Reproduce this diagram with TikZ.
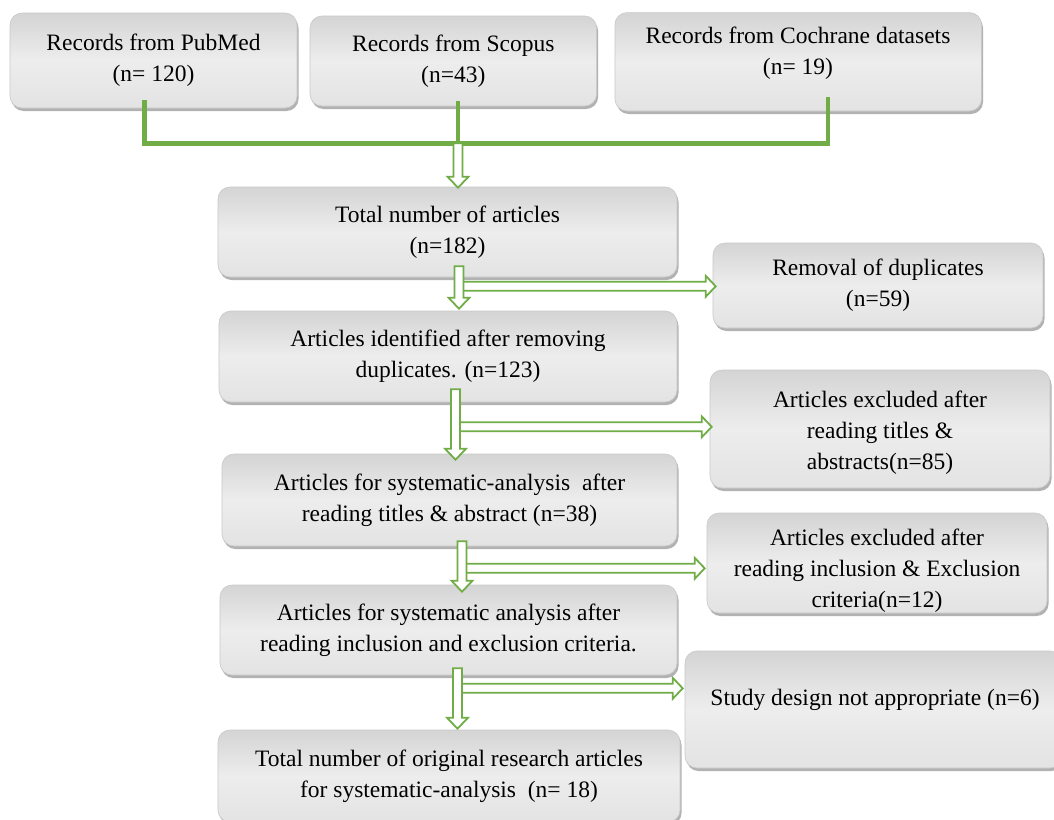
\documentclass[tikz,border=0pt]{standalone}
\usepackage{fontspec}
\setmainfont{Liberation Serif}
\usetikzlibrary{calc,shadows}
\definecolor{grn}{HTML}{70AD47}
\definecolor{bxtop}{HTML}{D4D4D4}
\definecolor{bxmid}{HTML}{EDEDED}
\definecolor{bxbot}{HTML}{E3E3E3}
\definecolor{bxline}{HTML}{C9C9C9}
\newcommand\hollowdown[2]{%
  \draw[hollow] let \p1=#1, \p2=#2 in
    (\x1-4.5pt,\y1) -- (\x1-4.5pt,\y2+11pt) -- (\x1-10.5pt,\y2+11pt) -- (\x1,\y2)
    -- (\x1+10.5pt,\y2+11pt) -- (\x1+4.5pt,\y2+11pt) -- (\x1+4.5pt,\y1) -- cycle;}
\newcommand\hollowright[2]{%
  \draw[hollow] let \p1=#1, \p2=#2 in
    (\x1,\y1+4.5pt) -- (\x2-10pt,\y1+4.5pt) -- (\x2-10pt,\y1+10.5pt) -- (\x2,\y1)
    -- (\x2-10pt,\y1-10.5pt) -- (\x2-10pt,\y1-4.5pt) -- (\x1,\y1-4.5pt) -- cycle;}
\begin{document}
\begin{tikzpicture}[x=1pt,y=-1pt,
  box/.style={rounded corners=12pt, draw=bxline, line width=0.6pt,
    top color=bxtop, bottom color=bxbot, middle color=bxmid,
    drop shadow={shadow xshift=1.5pt,shadow yshift=-3pt,fill=black,opacity=0.3},
    align=center, font=\fontsize{23.5}{31}\selectfont, inner sep=0pt},
  txt/.style={align=center, font=\fontsize{23.5}{31}\selectfont, inner sep=0pt},
  conn/.style={draw=grn, line width=4.5pt},
  hollow/.style={draw=grn, fill=white, line width=1.8pt, line join=miter}]
\useasboundingbox[fill=white] (0,0) rectangle (1054,819);

% boxes
\node[box, minimum width=287pt, minimum height=95pt] (pub) at (153.5,60.5) {Records from PubMed\\(n= 120)};
\node[box, minimum width=286.6pt, minimum height=90pt] (sco) at (453.3,61) {Records from Scopus\\(n=43)};
\node[box, minimum width=366.5pt, minimum height=98.4pt] (coc) at (798.25,61.8) {};
\node[txt] (coctxt) at (798,53) {Records from Cochrane datasets\\(n= 19)};
\node[box, minimum width=459pt, minimum height=90pt] (tot) at (447.5,232) {Total number of articles\\(n=182)};
\node[box, minimum width=330pt, minimum height=85pt] (dup) at (878,285.5) {Removal of duplicates\\(n=59)};
\node[box, minimum width=458pt, minimum height=91pt] (ident) at (448,356.5) {Articles identified after removing\\duplicates. (n=123)};
\node[box, minimum width=340pt, minimum height=118pt] (excl1) at (880,429) {};
\node[txt] (excl1txt) at (880,433) {Articles excluded after\\reading titles \&\\abstracts(n=85)};
\node[box, minimum width=455pt, minimum height=92pt] (sys1) at (449.5,500) {Articles for systematic-analysis\ \ after\\reading titles \& abstract (n=38)};
\node[box, minimum width=340pt, minimum height=100pt] (excl2) at (877,563) {};
\node[txt] (excl2txt) at (877,571) {Articles excluded after\\reading inclusion \& Exclusion\\criteria(n=12)};
\node[box, minimum width=457pt, minimum height=90pt] (sys2) at (448.5,630) {Articles for systematic analysis after\\reading inclusion and exclusion criteria.};
\node[box, minimum width=377pt, minimum height=117pt] (study) at (873.5,709.5) {};
\node[txt] (studytxt) at (875,700) {Study design not appropriate (n=6)};
\node[box, minimum width=462pt, minimum height=92pt] (final) at (449,776) {Total number of original research articles\\for systematic-analysis\ \ (n= 18)};

% merging connectors
\coordinate (jn) at (458,143.3);
\draw[conn] ([xshift=-8.8pt,yshift=8pt]pub.south) |- (jn);
\draw[conn] ([xshift=29.75pt,yshift=14pt]coc.south) |- (jn);
\draw[conn] ([xshift=4.7pt,yshift=5pt]sco.south) -- (jn);
\hollowdown{(jn)}{([yshift=-1pt]tot.north)}

% hollow arrows
\hollowright{([xshift=11.5pt,yshift=-9pt]tot.south)}{([xshift=3pt]dup.west)}
\hollowdown{([xshift=11.5pt,yshift=11pt]tot.south)}{([yshift=2pt]ident.north)}

\hollowright{([xshift=7.5pt,yshift=-24.5pt]ident.south)}{([xshift=2pt]excl1.west)}
\hollowdown{([xshift=7.5pt,yshift=13pt]ident.south)}{([yshift=-6pt]sys1.north)}

\hollowright{([xshift=12.5pt,yshift=-22pt]sys1.south)}{([xshift=-2pt]excl2.west)}
\hollowdown{([xshift=12.5pt,yshift=5pt]sys1.south)}{([yshift=-7pt]sys2.north)}

\hollowright{([xshift=9pt,yshift=-13pt]sys2.south)}{([xshift=-2pt]study.west)}
\hollowdown{([xshift=9pt,yshift=7pt]sys2.south)}{([yshift=1pt]final.north)}
\end{tikzpicture}
\end{document}
